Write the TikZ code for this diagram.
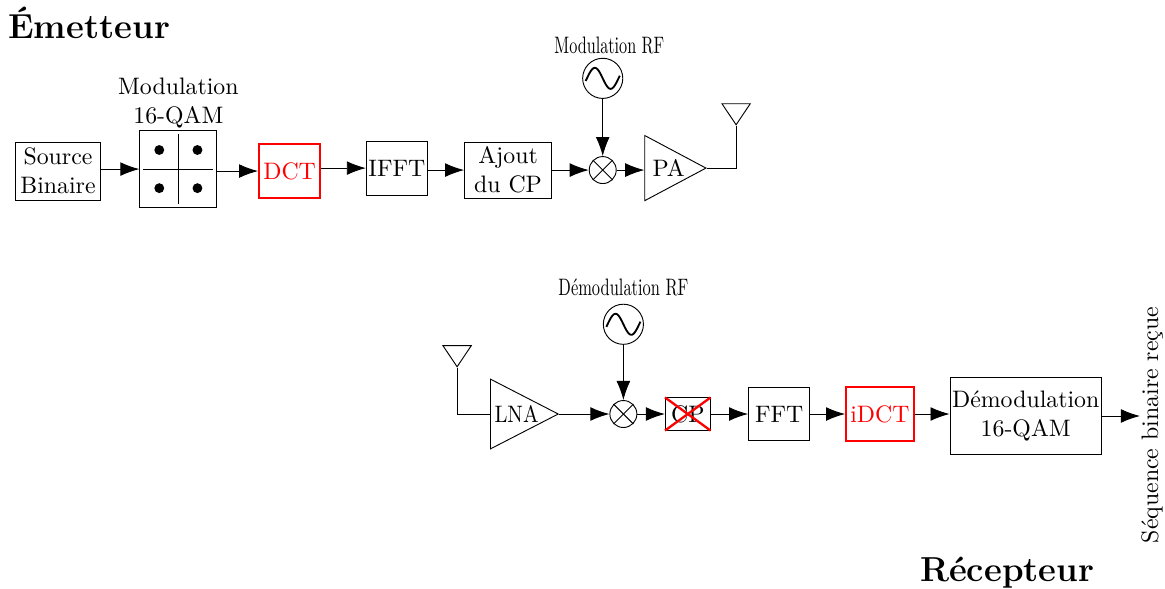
\documentclass[tikz,border=0pt]{standalone}
\usepackage{tikz}
\usetikzlibrary{shapes.geometric,arrows.meta,positioning}

\begin{document}
\begin{tikzpicture}[
    font=\fontsize{10.3}{12.4}\selectfont,
    block/.style={draw, inner sep=0pt, align=center},
    redblock/.style={block, draw=red, text=red, line width=0.8pt},
    mixer/.style={draw, circle, inner sep=0pt, minimum size=0.41cm},
    osc/.style={draw, circle, inner sep=0pt, minimum size=0.61cm},
    ampli/.style={draw, isosceles triangle, isosceles triangle stretches, inner sep=0pt},
    antenna/.style={draw, isosceles triangle, isosceles triangle stretches, shape border rotate=-90, inner sep=0pt, minimum width=0.43cm, minimum height=0.32cm},
    arrow/.style={-{Latex[length=2.9mm,width=2.1mm]}},
    title/.style={font=\fontsize{15}{18}\bfseries\selectfont, inner sep=0pt}
]
\useasboundingbox (0,0) rectangle (17.708,-8.938);

\node[title, anchor=west] (emetteur) at (0.12,-0.355) {Émetteur};
\node[title] (recepteur) at (15.31,-8.71) {Récepteur};

% emetteur
\node[block, minimum width=1.3cm, minimum height=0.88cm] (source) at (0.882,-2.6) {Source\\Binaire};
\node[block, minimum width=1.17cm, minimum height=1.17cm, right=0.58cm of source, yshift=0.03cm] (qam) {};
\node[inner sep=0pt, align=center, above=0.03cm of qam] (qamlabel) {Modulation\\16-QAM};
\node[redblock, minimum width=0.93cm, minimum height=0.82cm, right=0.62cm of qam, yshift=-0.03cm] (dct) {DCT};
\node[block, minimum width=0.93cm, minimum height=0.82cm, right=0.68cm of dct, yshift=0.045cm] (ifft) {IFFT};
\node[block, minimum width=1.32cm, minimum height=0.85cm, right=0.55cm of ifft, yshift=-0.03cm] (ajout) {Ajout\\du CP};
\node[mixer, right=0.56cm of ajout] (mixe) {};
\node[osc, above=0.87cm of mixe] (osce) {};
\node[inner sep=0pt, above=0.05cm of osce, xshift=0.1cm] (labele) {\scalebox{0.68}[1]{Modulation RF}};
\node[ampli, minimum width=0.99cm, minimum height=0.93cm, right=0.42cm of mixe, yshift=0.03cm] (pa) {\hspace{0.08cm}PA};
\node[antenna, anchor=apex] (ante) at ([shift={(0.44,0.64)}]pa.apex) {};

% recepteur
\node[ampli, minimum width=1.06cm, minimum height=1.03cm, anchor=lower side] (lna) at (7.448,-6.293) {\hspace{0.04cm}\scalebox{0.87}[1]{LNA}};
\node[antenna, anchor=apex] (antr) at ([shift={(-0.5,0.7)}]lna.lower side) {};
\node[mixer, right=0.76cm of lna.apex] (mixr) {};
\node[osc, above=0.84cm of mixr] (oscr) {};
\node[inner sep=0pt, above=0.11cm of oscr] (labelr) {\scalebox{0.69}[1]{Démodulation RF}};
\node[block, minimum width=0.68cm, minimum height=0.49cm, right=0.42cm of mixr] (cp) {CP};
\node[block, minimum width=0.93cm, minimum height=0.81cm, right=0.57cm of cp] (fft) {FFT};
\node[redblock, minimum width=1.03cm, minimum height=0.82cm, right=0.53cm of fft] (idct) {iDCT};
\node[block, minimum width=2.3cm, minimum height=1.17cm, right=0.53cm of idct, yshift=-0.03cm] (demod) {Démodulation\\16-QAM};
\coordinate[right=0.58cm of demod] (sortie);
\node[inner sep=0pt, rotate=90] (sequence) at (17.51,-6.46) {Séquence binaire reçue};

% constellation
\draw (qam.center |- qam.north) ++(0,-0.06) -- ([yshift=0.06cm]qam.south);
\draw ([xshift=0.06cm]qam.west) -- ([xshift=-0.06cm]qam.east);
\foreach \dx in {-0.29,0.29}
  \foreach \dy in {-0.29,0.29}
    \fill ([shift={(\dx,\dy)}]qam.center) circle (0.075);

% mixers and oscillators
\foreach \m in {mixe,mixr} {
  \draw (\m.45) -- (\m.225);
  \draw (\m.135) -- (\m.315);
}
\foreach \o in {osce,oscr}
  \draw[line width=0.8pt, shift={(\o.center)}] plot[domain=-1.08:1.08, samples=30, smooth] ({0.24*\x},{-0.16*sin(180*\x)});

% CP retire
\draw[red, line width=1pt] (cp.north west) -- (cp.south east);
\draw[red, line width=1pt] (cp.south west) -- (cp.north east);

% arrows (emetteur)
\draw[arrow] (source.east |- qam.west) -- (qam.west);
\draw[arrow] (qam.east |- dct.west) -- (dct.west);
\draw[arrow] (dct.east |- ifft.west) -- (ifft.west);
\draw[arrow] (ifft.east |- ajout.west) -- (ajout.west);
\draw[arrow] (ajout) -- (mixe);
\draw[arrow] (mixe) -- (mixe -| pa.west);
\draw[arrow] (osce) -- (mixe);
\draw (pa.apex) -| (ante.apex);

% arrows (recepteur)
\draw (antr.apex) |- (lna.lower side);
\draw[arrow] (lna.apex) -- (mixr);
\draw[arrow] (oscr) -- (mixr);
\draw[arrow] (mixr) -- (cp);
\draw[arrow] (cp) -- (fft);
\draw[arrow] (fft) -- (idct);
\draw[arrow] (idct.east) -- (idct.east -| demod.west);
\draw[arrow] (demod) -- (sortie);

\end{tikzpicture}
\end{document}
